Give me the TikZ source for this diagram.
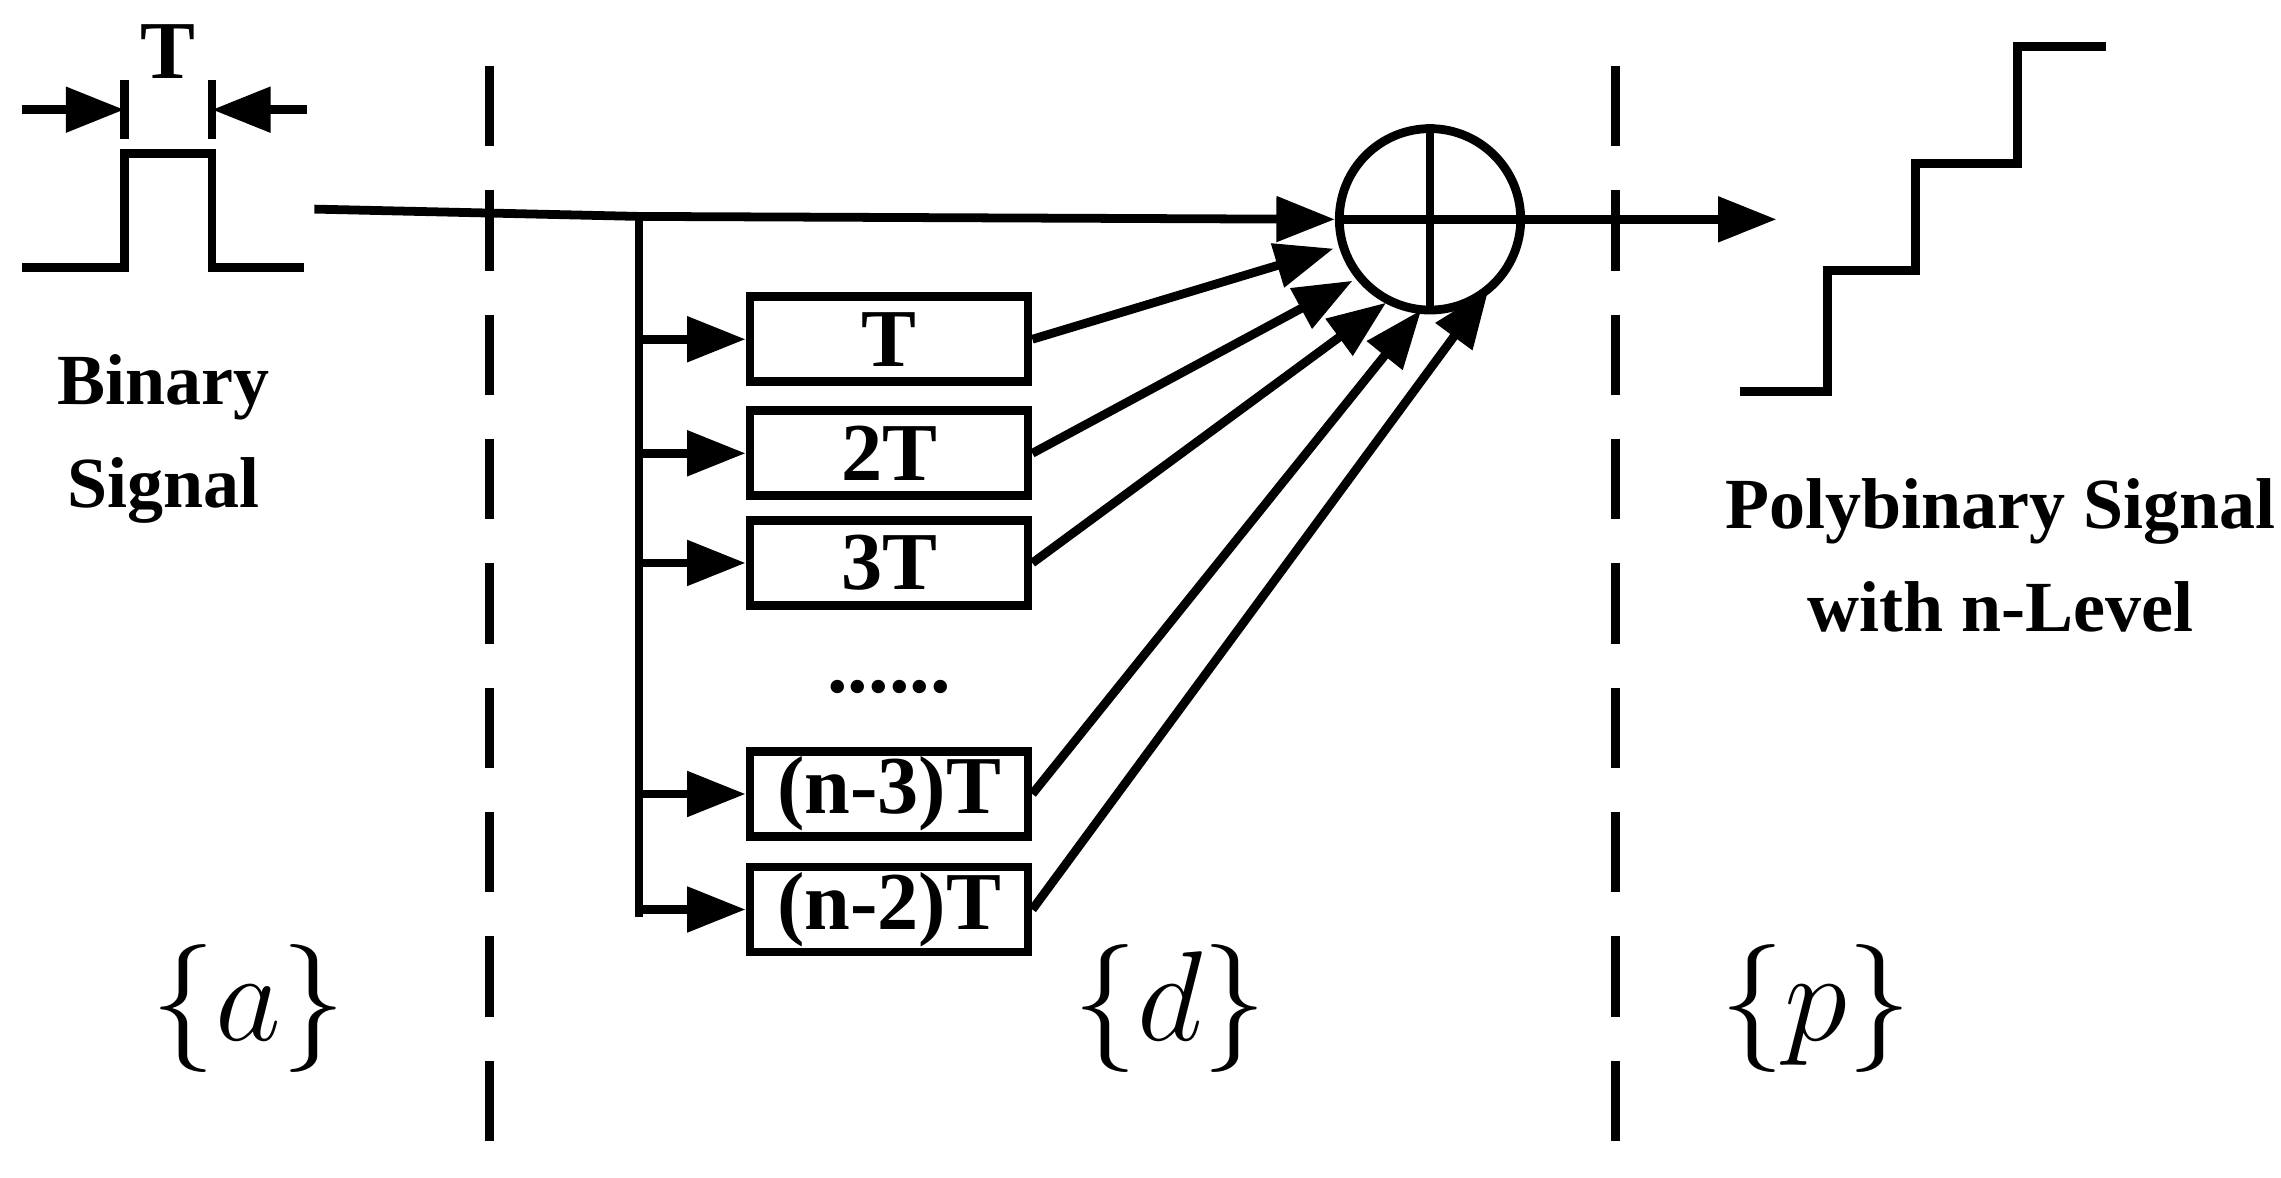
\documentclass[tikz,border=0pt]{standalone}
\usepackage{fontspec}
\setmainfont{Liberation Serif}
\usetikzlibrary{arrows.meta}
\begin{document}
\begin{tikzpicture}[x=0.01cm,y=-0.01cm,line width=0.06cm,
  arr/.style={-{Triangle[length=0.4cm,width=0.3cm]}},
  box/.style={draw,minimum width=1.9cm,minimum height=0.58cm,inner sep=0pt,font=\bfseries\fontsize{16}{18}\selectfont},
  lab/.style={font=\bfseries\fontsize{14}{20}\selectfont,align=center},
  set/.style={font=\fontsize{40}{44}\selectfont}]
\useasboundingbox (0,0) rectangle (1560,805);
% pulse
\draw (15,183) -- (85,183) -- (85,105) -- (145,105) -- (145,183) -- (208,183);
\draw (85,55) -- (85,95); \draw (145,55) -- (145,95);
\coordinate (pl) at (15,75); \coordinate (pr) at (210,75);
\coordinate (pa) at (85,75); \coordinate (pb) at (145,75);
\draw[arr] (pl) -- (pa); \draw[arr] (pr) -- (pb);
\node[font=\bfseries\fontsize{16}{18}\selectfont] (T) at (115,35) {T};
\node[lab] (bin) at (112,300) {Binary\\Signal};
% dashed
\draw[dash pattern=on 0.55cm off 0.3cm] (335,45) -- (335,780);
\draw[dash pattern=on 0.55cm off 0.3cm] (1105,45) -- (1105,780);
% sum
\node[draw,circle,minimum size=1.24cm,inner sep=0pt] (sum) at (978,150) {};
\draw (sum.north) -- (sum.south); \draw (sum.west) -- (sum.east);
\coordinate (in) at (215,143);
\coordinate (j) at (437,148);
\draw[arr] (in) -- (j) -- (sum.west);
\coordinate (out) at (1215,150);
\draw[arr] (sum.east) -- (out);
% boxes
\node[box] (b1) at (608,232) {T};
\node[box] (b2) at (608,310) {2T};
\node[box] (b3) at (608,385) {3T};
\node[box] (b4) at (608,543) {(n-3)T};
\node[box] (b5) at (608,622) {(n-2)T};
\node[font=\bfseries\fontsize{16}{18}\selectfont] (dots) at (608,470) {......};
\coordinate (jb) at (437,627);
\draw (j) -- (jb);
\foreach \b in {b1,b2,b3,b4,b5} \draw[arr] (437,0 |- \b.west) -- (\b.west);
\draw[arr] (b1.east) -- (912,170);
\draw[arr] (b2.east) -- (925,192);
\draw[arr] (b3.east) -- (948,207);
\draw[arr] (b4.east) -- (972,212);
\draw[arr] (b5.east) -- (1018,198);
% staircase
\draw (1190,268) -- (1250,268) -- (1250,185) -- (1310,185) -- (1310,112) -- (1380,112) -- (1380,32) -- (1440,32);
\node[lab] (poly) at (1368,380) {Polybinary Signal\\with n-Level};
\node[set] (sa) at (170,690) {$\{a\}$};
\node[set] (sd) at (800,690) {$\{d\}$};
\node[set] (sp) at (1242,690) {$\{p\}$};
\end{tikzpicture}
\end{document}
